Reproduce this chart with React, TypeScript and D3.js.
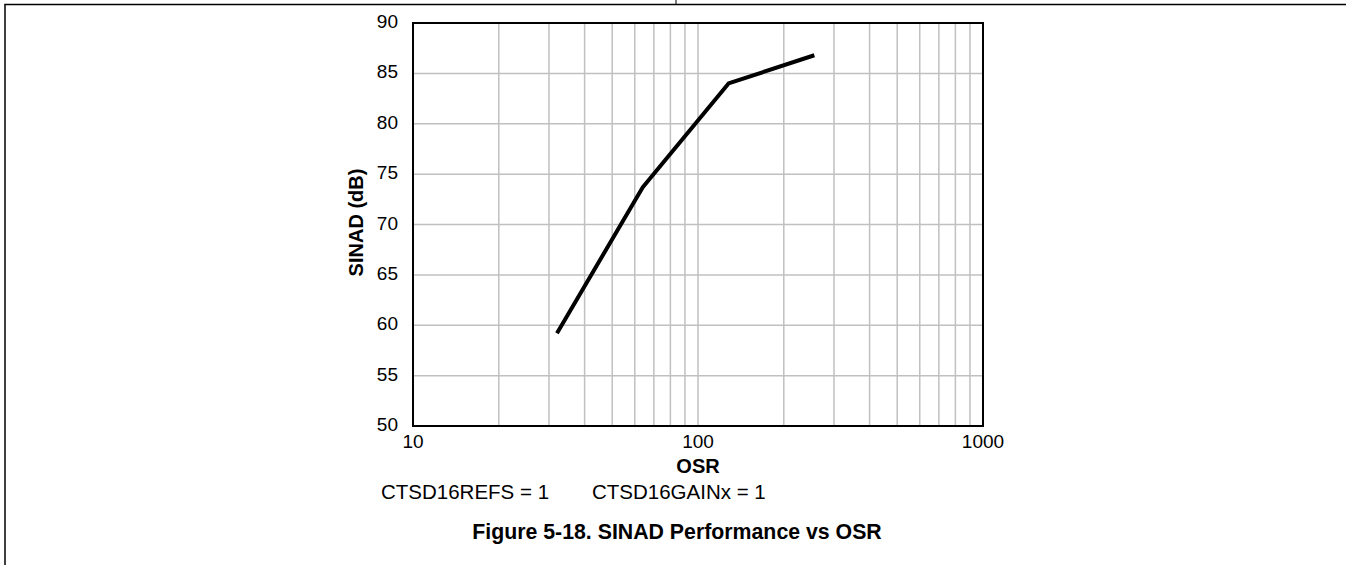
import React, { useEffect, useRef } from "react";
import * as d3 from "d3";

// SINAD vs OSR
const osr = [32, 64, 128, 256];
const sinad = [59.2, 73.7, 84.0, 86.8];
const yTicks = [50, 55, 60, 65, 70, 75, 80, 85, 90];
const xTickLabels = [10, 100, 1000];
const notes = ["CTSD16REFS = 1", "CTSD16GAINx = 1"];
const caption = "Figure 5-18. SINAD Performance vs OSR";

const FONT = "'Liberation Sans', Arial, Helvetica, sans-serif";

export default function App() {
  const svgRef = useRef<SVGSVGElement | null>(null);

  useEffect(() => {
    const svg = d3.select(svgRef.current);
    svg.selectAll("*").remove();

    const width = 1346;
    const height = 565;
    const margin = { top: 23, right: 363, bottom: 139, left: 413 };
    const w = width - margin.left - margin.right;
    const h = height - margin.top - margin.bottom;

    // page frame
    svg.append("path")
      .attr("d", `M5,${height} V4.5 H${width}`)
      .attr("fill", "none")
      .attr("stroke", "#000")
      .attr("stroke-width", 1.5);
    svg.append("line")
      .attr("x1", 676).attr("x2", 676)
      .attr("y1", 0).attr("y2", 4.5)
      .attr("stroke", "#000")
      .attr("stroke-width", 1);

    const x = d3.scaleLog().domain([10, 1000]).range([0, w]);
    const y = d3.scaleLinear().domain([50, 90]).range([h, 0]);

    const g = svg.append("g")
      .attr("transform", `translate(${margin.left},${margin.top})`);

    // minor + major grid
    const xGrid = x.ticks().filter((t) => t > 10 && t < 1000);
    g.append("g")
      .selectAll("line")
      .data(xGrid)
      .join("line")
      .attr("x1", (d) => x(d)).attr("x2", (d) => x(d))
      .attr("y1", 0).attr("y2", h)
      .attr("stroke", "#c0c0c0")
      .attr("stroke-width", 1.5);

    g.append("g")
      .selectAll("line")
      .data(yTicks.slice(1, -1))
      .join("line")
      .attr("x1", 0).attr("x2", w)
      .attr("y1", (d) => y(d)).attr("y2", (d) => y(d))
      .attr("stroke", "#c0c0c0")
      .attr("stroke-width", 1.5);

    // plot border
    g.append("rect")
      .attr("width", w)
      .attr("height", h)
      .attr("fill", "none")
      .attr("stroke", "#000")
      .attr("stroke-width", 2);

    // y labels
    g.append("g")
      .selectAll("text")
      .data(yTicks)
      .join("text")
      .attr("x", -15)
      .attr("y", (d) => y(d) + 5)
      .attr("text-anchor", "end")
      .attr("font-family", FONT)
      .attr("font-size", 19)
      .text((d) => d);

    // x labels
    g.append("g")
      .selectAll("text")
      .data(xTickLabels)
      .join("text")
      .attr("x", (d) => x(d))
      .attr("y", h + 22)
      .attr("text-anchor", "middle")
      .attr("font-family", FONT)
      .attr("font-size", 19)
      .text((d) => d);

    // data line
    const line = d3.line<number>()
      .x((_, i) => x(osr[i]))
      .y((d) => y(d));

    g.append("path")
      .datum(sinad)
      .attr("fill", "none")
      .attr("stroke", "#000")
      .attr("stroke-width", 4)
      .attr("stroke-linejoin", "round")
      .attr("d", line);

    // axis titles
    g.append("text")
      .attr("x", w / 2)
      .attr("y", h + 47)
      .attr("text-anchor", "middle")
      .attr("font-family", FONT)
      .attr("font-size", 20)
      .attr("font-weight", 700)
      .text("OSR");

    g.append("text")
      .attr("transform", `translate(${363 - margin.left},${h / 2 - 2}) rotate(-90)`)
      .attr("text-anchor", "middle")
      .attr("font-family", FONT)
      .attr("font-size", 20)
      .attr("font-weight", 700)
      .text("SINAD (dB)");

    // conditions
    svg.append("g")
      .selectAll("text")
      .data(notes)
      .join("text")
      .attr("x", (_, i) => (i === 0 ? 381 : 592))
      .attr("y", 499)
      .attr("font-family", FONT)
      .attr("font-size", 20.5)
      .text((d) => d);

    // caption, centred on the page column
    svg.append("text")
      .attr("x", 677)
      .attr("y", 539)
      .attr("text-anchor", "middle")
      .attr("font-family", FONT)
      .attr("font-size", 21.3)
      .attr("font-weight", 700)
      .text(caption);
  }, []);

  return (
    <div style={{ position: "absolute", left: 0, top: 0 }}>
      <svg ref={svgRef} width={1346} height={565} style={{ display: "block", background: "white" }} />
    </div>
  );
}
